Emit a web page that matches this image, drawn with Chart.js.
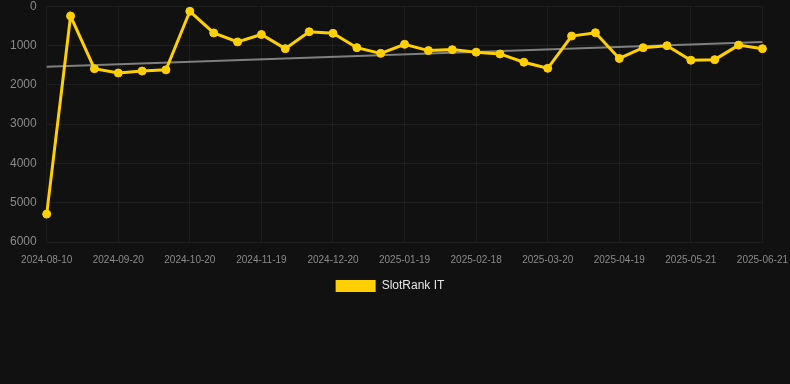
<!DOCTYPE html>
<html>
<head>
<meta charset="utf-8">
<script src="https://cdn.jsdelivr.net/npm/chart.js@4/dist/chart.umd.min.js"></script>
<style>
  html, body { margin: 0; padding: 0; background: #111111; overflow: hidden; width: 790px; height: 384px; }
  #wrap { width: 820px; height: 395px; position: absolute; left: -20px; top: -11px; }
</style>
</head>
<body>
<div id="wrap"><canvas id="c"></canvas></div>
<script>
const categories = [
  "2024-08-10","2024-08-24","2024-09-07","2024-09-20","2024-09-30","2024-10-10",
  "2024-10-20","2024-10-30","2024-11-09","2024-11-19","2024-11-29","2024-12-10",
  "2024-12-20","2024-12-30","2025-01-09","2025-01-19","2025-01-29","2025-02-08",
  "2025-02-18","2025-02-28","2025-03-10","2025-03-20","2025-03-30","2025-04-09",
  "2025-04-19","2025-04-30","2025-05-10","2025-05-21","2025-05-31","2025-06-11",
  "2025-06-21"
];
const slotRankIT = [
  5290, 250, 1590, 1700, 1650, 1620,
  130, 680, 910, 720, 1080, 650,
  690, 1055, 1200, 970, 1130, 1105,
  1170, 1215, 1425, 1580, 760, 675,
  1330, 1055, 1005, 1375, 1360, 990,
  1080
];
const trendStart = 1540;
const trendEnd = 910;
const yTicks = [0, 1000, 2000, 3000, 4000, 5000, 6000];

const trendData = categories.map((_, i) =>
  i === 0 ? trendStart : (i === categories.length - 1 ? trendEnd : null));

new Chart(document.getElementById('c'), {
  type: 'line',
  data: {
    labels: categories,
    datasets: [
      {
        label: 'SlotRank IT',
        data: slotRankIT,
        borderColor: '#FFD000',
        backgroundColor: '#FFD000',
        borderWidth: 3,
        pointRadius: 4,
        pointBorderWidth: 1,
        pointBackgroundColor: '#FFD000',
        pointBorderColor: '#FFD000',
        tension: 0,
        order: 1
      },
      {
        label: 'trend',
        data: trendData,
        borderColor: 'rgba(140,140,140,0.9)',
        backgroundColor: 'rgba(140,140,140,0.9)',
        borderWidth: 2,
        pointRadius: 0,
        spanGaps: true,
        order: 2
      }
    ]
  },
  options: {
    responsive: true,
    maintainAspectRatio: false,
    animation: false,
    layout: { padding: { left: 0, right: 0, top: 0, bottom: 82 } },
    plugins: {
      legend: {
        position: 'bottom',
        labels: {
          color: '#e6e6e6',
          padding: 2,
          font: { family: 'Liberation Sans, Arial, sans-serif', size: 12 },
          boxWidth: 40,
          boxHeight: 12,
          generateLabels: (chart) =>
            Chart.defaults.plugins.legend.labels.generateLabels(chart)
              .filter(item => item.text !== 'trend')
              .map(item => Object.assign(item, { lineWidth: 0 }))
        }
      },
      tooltip: { enabled: false }
    },
    scales: {
      x: {
        grid: { color: 'rgba(255,255,255,0.05)', drawTicks: false },
        border: { display: false },
        ticks: {
          color: '#8a8a8a',
          font: { family: 'Liberation Sans, Arial, sans-serif', size: 10 },
          maxRotation: 0,
          autoSkip: true,
          maxTicksLimit: 11,
          padding: 12
        }
      },
      y: {
        reverse: true,
        min: 0,
        max: 6000,
        afterBuildTicks: (scale) => { scale.ticks = yTicks.map(v => ({ value: v })); },
        afterFit: (scale) => { scale.width += 20; },
        grid: { color: 'rgba(255,255,255,0.05)', drawTicks: false },
        border: { display: false },
        ticks: {
          color: '#8a8a8a',
          font: { family: 'Liberation Sans, Arial, sans-serif', size: 12 },
          padding: 10,
          callback: (v) => String(v)
        }
      }
    }
  }
});
</script>
</body>
</html>
